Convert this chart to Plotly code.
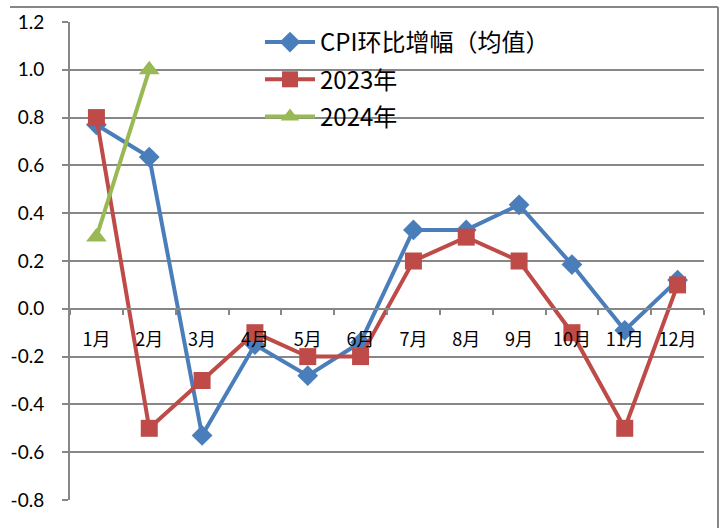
import plotly.graph_objects as go

months = ["1月", "2月", "3月", "4月", "5月", "6月", "7月", "8月", "9月", "10月", "11月", "12月"]
cpi_avg = [0.77, 0.635, -0.53, -0.15, -0.28, -0.14, 0.33, 0.33, 0.435, 0.185, -0.09, 0.12]
y2023 = [0.8, -0.5, -0.3, -0.1, -0.2, -0.2, 0.2, 0.3, 0.2, -0.1, -0.5, 0.1]
y2024 = [0.3, 1.0]
y_ticks = [-0.8, -0.6, -0.4, -0.2, 0.0, 0.2, 0.4, 0.6, 0.8, 1.0, 1.2]

BLUE = "#4A7EBB"
RED = "#BE4B48"
GREEN = "#98B954"
GRID = "#878787"

fig = go.Figure()
fig.add_trace(go.Scatter(x=months, y=cpi_avg, name="CPI环比增幅（均值）", mode="lines+markers",
                         legendgroup="a",
                         line=dict(color=BLUE, width=4),
                         marker=dict(symbol="diamond", size=16, color=BLUE)))
fig.add_trace(go.Scatter(x=months, y=y2023, name="2023年", mode="lines+markers",
                         legendgroup="b",
                         line=dict(color=RED, width=4),
                         marker=dict(symbol="square", size=17, color=RED)))
fig.add_trace(go.Scatter(x=months[:len(y2024)], y=y2024, name="2024年", mode="lines+markers",
                         legendgroup="c",
                         line=dict(color=GREEN, width=4),
                         marker=dict(symbol="triangle-up", size=18, color=GREEN)))

W, H = 724, 528
# plot area in window pixels
X0, X1, Y0, Y1 = 70, 704, 22, 500
L, T = X0, Y0
R, B = W - X1, H - Y1
pw, ph = W - L - R, H - T - B

def px_x(x):
    return (x - L) / pw

def px_y(y):
    return (H - B - y) / ph

fig.update_layout(
    width=W, height=H,
    margin=dict(l=L, r=R, t=T, b=B, autoexpand=False),
    paper_bgcolor="white", plot_bgcolor="white",
    showlegend=True,
    legend=dict(x=px_x(260), y=px_y(20), xanchor="left", yanchor="top",
                bgcolor="rgba(0,0,0,0)", font=dict(family="Noto Sans CJK SC", size=24, color="black"),
                itemwidth=50, traceorder="grouped", tracegroupgap=3),
    xaxis=dict(type="category", categoryorder="array", categoryarray=months,
               range=[-0.5, 11.5], anchor="free", position=0.4, automargin=False,
               showline=True, linecolor=GRID, linewidth=1.5,
               ticks="outside", ticklen=5, tickcolor=GRID, tickwidth=1.5,
               tickson="boundaries", showgrid=False, ticklabelstandoff=15,
               tickfont=dict(family="Noto Sans CJK SC", size=18, color="black")),
    yaxis=dict(range=[-0.8, 1.2], tickvals=y_ticks, ticktext=[f"{v:.1f}" for v in y_ticks],
               automargin=False,
               showline=True, linecolor=GRID, linewidth=2, zeroline=False,
               showgrid=True, gridcolor=GRID, gridwidth=1.5,
               ticks="outside", ticklen=6, tickcolor=GRID, tickwidth=1.5,
               ticklabelstandoff=14,
               tickfont=dict(family="Lato", size=19, color="black")),
    shapes=[
        dict(type="line", xref="paper", yref="paper", x0=px_x(10), x1=px_x(718), y0=px_y(7), y1=px_y(7),
             line=dict(color=GRID, width=2)),
        dict(type="line", xref="paper", yref="paper", x0=px_x(718), x1=px_x(718), y0=px_y(7), y1=px_y(528),
             line=dict(color=GRID, width=2)),
    ],
)

fig.write_html("out.html", config={"displayModeBar": False},
               post_script="document.body.style.margin='0';document.body.style.overflow='hidden';")
